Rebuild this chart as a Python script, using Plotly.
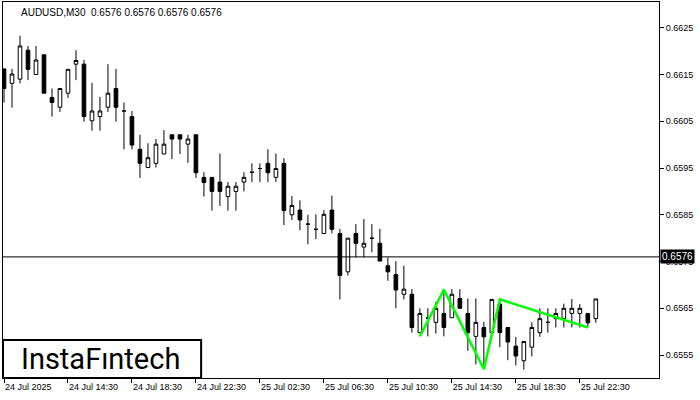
import plotly.graph_objects as go
import pandas as pd

# ---- data ----
start_time = "2025-07-24 10:30"
n_candles = 75
opens = [0.66162, 0.66131, 0.66140, 0.66202, 0.66150, 0.66192, 0.66101, 0.66080, 0.66110, 0.66172,
         0.66172, 0.66051, 0.66060, 0.66080, 0.66120, 0.66072, 0.66060, 0.65990, 0.65951, 0.65960,
         0.65980, 0.66021, 0.66021, 0.66001, 0.66021, 0.65930, 0.65930, 0.65920, 0.65889, 0.65900,
         0.65920, 0.65941, 0.65949, 0.65960, 0.65930, 0.65960, 0.65850, 0.65860, 0.65830, 0.65819,
         0.65810, 0.65860, 0.65810, 0.65728, 0.65810, 0.65781, 0.65800, 0.65789, 0.65741, 0.65722,
         0.65680, 0.65680, 0.65598, 0.65629, 0.65620, 0.65639, 0.65630, 0.65671, 0.65639, 0.65590,
         0.65609, 0.65598, 0.65659, 0.65609, 0.65569, 0.65538, 0.65567, 0.65598, 0.65620, 0.65628,
         0.65628, 0.65639, 0.65639, 0.65639, 0.65628]
highs = [0.66162, 0.66162, 0.66233, 0.66211, 0.66211, 0.66192, 0.66120, 0.66120, 0.66161, 0.66202,
         0.66181, 0.66132, 0.66102, 0.66172, 0.66162, 0.66090, 0.66072, 0.66021, 0.66003, 0.66012,
         0.66031, 0.66021, 0.66021, 0.66021, 0.66021, 0.65941, 0.65930, 0.65981, 0.65920, 0.65920,
         0.65941, 0.65960, 0.65960, 0.65990, 0.65981, 0.65971, 0.65890, 0.65881, 0.65850, 0.65851,
         0.65860, 0.65891, 0.65820, 0.65800, 0.65830, 0.65841, 0.65830, 0.65820, 0.65759, 0.65751,
         0.65741, 0.65691, 0.65650, 0.65650, 0.65664, 0.65691, 0.65691, 0.65691, 0.65671, 0.65671,
         0.65621, 0.65669, 0.65669, 0.65609, 0.65589, 0.65580, 0.65620, 0.65650, 0.65650, 0.65650,
         0.65660, 0.65670, 0.65659, 0.65639, 0.65670]
lows = [0.66090, 0.66079, 0.66131, 0.66138, 0.66150, 0.66110, 0.66060, 0.66070, 0.66100, 0.66138,
        0.66049, 0.66030, 0.66030, 0.66070, 0.66049, 0.65990, 0.65990, 0.65929, 0.65951, 0.65951,
        0.65980, 0.65969, 0.65980, 0.65961, 0.65929, 0.65889, 0.65859, 0.65869, 0.65859, 0.65859,
        0.65900, 0.65920, 0.65920, 0.65920, 0.65920, 0.65828, 0.65839, 0.65817, 0.65787, 0.65798,
        0.65810, 0.65810, 0.65669, 0.65720, 0.65759, 0.65759, 0.65770, 0.65751, 0.65709, 0.65650,
        0.65669, 0.65598, 0.65598, 0.65590, 0.65596, 0.65590, 0.65630, 0.65650, 0.65559, 0.65530,
        0.65524, 0.65590, 0.65567, 0.65539, 0.65528, 0.65519, 0.65547, 0.65589, 0.65598, 0.65609,
        0.65609, 0.65609, 0.65609, 0.65609, 0.65619]
closes = [0.66120, 0.66151, 0.66211, 0.66161, 0.66181, 0.66110, 0.66090, 0.66120, 0.66161, 0.66180,
          0.66060, 0.66072, 0.66072, 0.66110, 0.66080, 0.66072, 0.65999, 0.65960, 0.65972, 0.66001,
          0.66001, 0.66012, 0.66012, 0.66012, 0.65940, 0.65919, 0.65900, 0.65900, 0.65911, 0.65911,
          0.65930, 0.65941, 0.65949, 0.65940, 0.65949, 0.65859, 0.65870, 0.65839, 0.65830, 0.65819,
          0.65851, 0.65819, 0.65720, 0.65800, 0.65789, 0.65789, 0.65800, 0.65751, 0.65728, 0.65689,
          0.65691, 0.65609, 0.65639, 0.65629, 0.65650, 0.65609, 0.65680, 0.65650, 0.65598, 0.65620,
          0.65589, 0.65669, 0.65598, 0.65578, 0.65548, 0.65579, 0.65609, 0.65628, 0.65620, 0.65639,
          0.65650, 0.65650, 0.65650, 0.65619, 0.65670]

tick_times = ["2025-07-24 10:30", "2025-07-24 14:30", "2025-07-24 18:30", "2025-07-24 22:30",
              "2025-07-25 02:30", "2025-07-25 06:30", "2025-07-25 10:30", "2025-07-25 14:30",
              "2025-07-25 18:30", "2025-07-25 22:30"]
tick_text = ["24 Jul 2025", "24 Jul 14:30", "24 Jul 18:30", "24 Jul 22:30", "25 Jul 02:30",
             "25 Jul 06:30", "25 Jul 10:30", "25 Jul 14:30", "25 Jul 18:30", "25 Jul 22:30"]
y_ticks = [0.6555, 0.6565, 0.6575, 0.6585, 0.6595, 0.6605, 0.6615, 0.6625]
y_range = [0.65501, 0.66305]
x_range = ["2025-07-24 10:26:15", "2025-07-26 03:27"]
current_price = 0.6576
title_text = "AUDUSD,M30  0.6576 0.6576 0.6576 0.6576"
pattern_idx = [52, 55, 60, 62, 73]
pattern_price = [0.65590, 0.65690, 0.65520, 0.65669, 0.65609]
logo_text = "InstaFıntech"

times = pd.date_range(start_time, periods=n_candles, freq="30min")

fig = go.Figure()
fig.add_trace(go.Candlestick(
    x=times, open=opens, high=highs, low=lows, close=closes,
    increasing=dict(line=dict(color="black", width=1), fillcolor="white"),
    decreasing=dict(line=dict(color="black", width=1), fillcolor="black"),
    whiskerwidth=0, showlegend=False, hoverinfo="skip",
))
fig.add_trace(go.Scatter(
    x=[times[i] for i in pattern_idx], y=pattern_price, mode="lines",
    line=dict(color="#00ff00", width=2.5), showlegend=False, hoverinfo="skip",
))

fig.add_shape(type="line", xref="paper", x0=0, x1=1, yref="y", y0=current_price, y1=current_price,
              line=dict(color="black", width=1))

font = "Liberation Sans"
fig.add_annotation(xref="paper", yref="y", x=1, y=current_price, xanchor="left", yanchor="middle",
                   text="0.6576", showarrow=False, bgcolor="black", borderpad=1, xshift=1,
                   font=dict(family=font, size=10, color="white"))
fig.add_annotation(xref="paper", yref="paper", x=0.025, y=0.973, xanchor="left", yanchor="middle",
                   text=title_text, showarrow=False, font=dict(family=font, size=10, color="black"))

# logo box
fig.add_shape(type="rect", xref="paper", yref="paper", x0=0.0, x1=0.302, y0=0.0, y1=0.101,
              fillcolor="white", line=dict(color="black", width=2), layer="above")
fig.add_annotation(xref="paper", yref="paper", x=0.149, y=0.05, xanchor="center", yanchor="middle",
                   text=logo_text, showarrow=False, font=dict(family="Roboto", size=29, color="black"))

fig.update_layout(
    width=700, height=400,
    margin=dict(l=3, r=41, t=2, b=22),
    paper_bgcolor="white", plot_bgcolor="white",
    boxgap=0.35,
    xaxis=dict(
        type="date", range=x_range, rangeslider=dict(visible=False),
        tickvals=tick_times, ticktext=tick_text, ticks="outside", ticklen=4, tickcolor="black",
        ticklabelposition="outside right",
        showgrid=False, zeroline=False, showline=True, linecolor="black", linewidth=1, mirror=True,
        tickfont=dict(family=font, size=9, color="black"),
    ),
    yaxis=dict(
        side="right", range=y_range, tickvals=y_ticks, tickformat=".4f",
        ticks="outside", ticklen=4, tickcolor="black",
        showgrid=False, zeroline=False, showline=True, linecolor="black", linewidth=1, mirror=True,
        tickfont=dict(family=font, size=9, color="black"),
    ),
)

fig.write_html("out.html", config={"displayModeBar": False},
               post_script="document.body.style.margin='0';")
